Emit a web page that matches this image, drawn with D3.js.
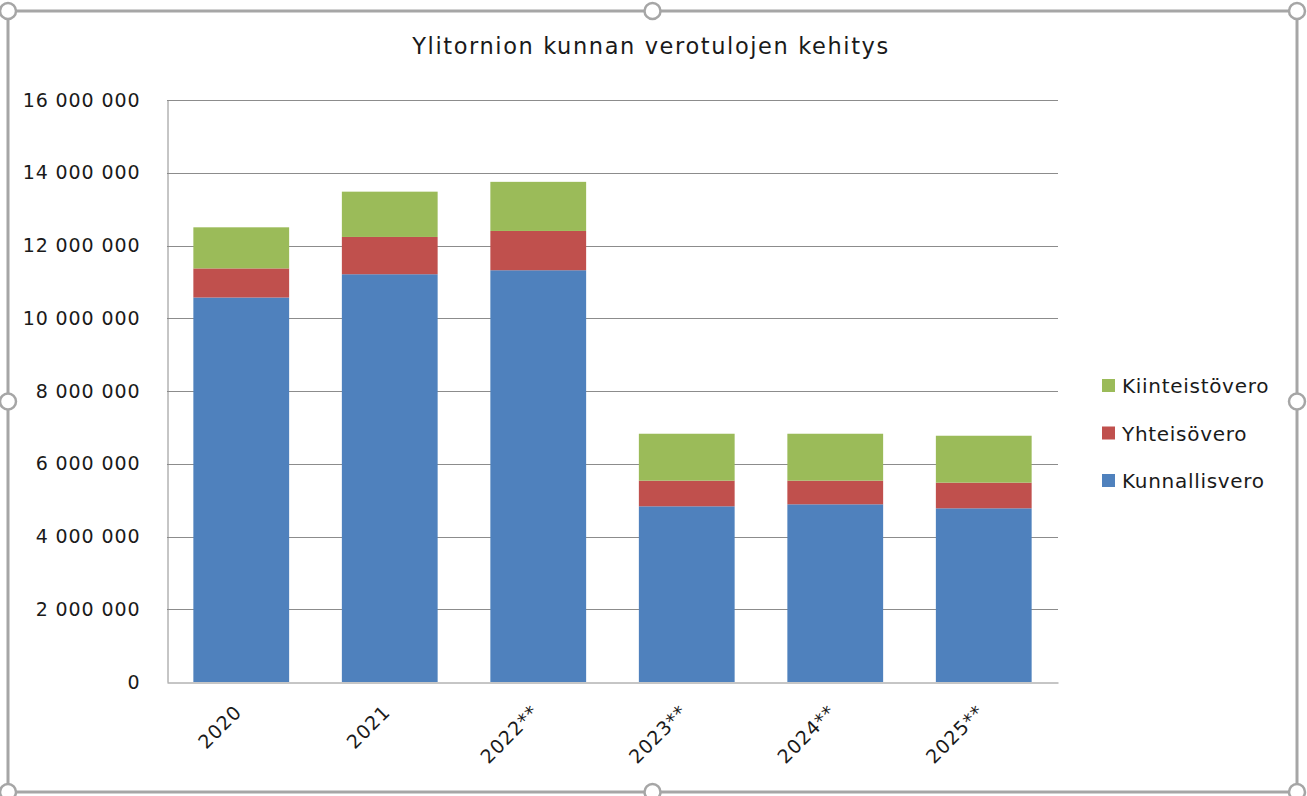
<!DOCTYPE html>
<html>
<head>
<meta charset="utf-8">
<script src="https://cdn.jsdelivr.net/npm/d3@7"></script>
<style>
  body { margin: 0; background: #fff; }
  svg text { font-family: "DejaVu Sans", sans-serif; fill: #1a1a1a; }
</style>
</head>
<body>
<div id="chart"></div>
<script>
const width = 1307;
const height = 796;

// data
const years = ["2020", "2021", "2022**", "2023**", "2024**", "2025**"];
const kunnallisvero = [10570000, 11210000, 11320000, 4830000, 4885000, 4775000];
const yhteisovero = [800000, 1025000, 1080000, 705000, 650000, 705000];
const kiinteistovero = [1130000, 1245000, 1350000, 1290000, 1290000, 1290000];
const seriesNames = ["Kunnallisvero", "Yhteisövero", "Kiinteistövero"];
const colors = ["#4F81BD", "#C0504D", "#9BBB59"];
const yTicks = [0, 2000000, 4000000, 6000000, 8000000, 10000000, 12000000, 14000000, 16000000];

const rows = years.map((y, i) => ({
  year: y,
  Kunnallisvero: kunnallisvero[i],
  "Yhteisövero": yhteisovero[i],
  "Kiinteistövero": kiinteistovero[i]
}));

const svg = d3.select("#chart")
  .append("svg")
  .attr("width", width)
  .attr("height", height);

const plot = { left: 167, right: 1058, top: 100, bottom: 682 };

const x = d3.scaleBand()
  .domain(years)
  .range([plot.left, plot.right])
  .paddingInner(0.355)
  .paddingOuter(0.1775);

const y = d3.scaleLinear()
  .domain([0, 16000000])
  .range([plot.bottom, plot.top]);

const fmt = v => d3.format(",")(v).replace(/,/g, " ");

// gridlines
svg.append("g")
  .selectAll("line")
  .data(yTicks.slice(1))
  .enter()
  .append("line")
  .attr("x1", plot.left)
  .attr("x2", plot.right)
  .attr("y1", d => Math.round(y(d)) + 0.5)
  .attr("y2", d => Math.round(y(d)) + 0.5)
  .attr("stroke", "#8c8c8c")
  .attr("stroke-width", 1);

// stacked bars
const stack = d3.stack().keys(seriesNames)(rows);

svg.append("g")
  .selectAll("g")
  .data(stack)
  .enter()
  .append("g")
  .attr("fill", (d, i) => colors[i])
  .selectAll("rect")
  .data(d => d)
  .enter()
  .append("rect")
  .attr("x", d => x(d.data.year))
  .attr("width", x.bandwidth())
  .attr("y", d => y(d[1]))
  .attr("height", d => y(d[0]) - y(d[1]));

// axes
const yAxis = svg.append("g")
  .attr("transform", `translate(${plot.left + 0.5},0)`)
  .call(d3.axisLeft(y).tickValues(yTicks).tickFormat(fmt).tickSize(0).tickPadding(27));
yAxis.select(".domain").attr("stroke", "#8c8c8c");
yAxis.selectAll("text")
  .style("font-size", "19px")
  .style("letter-spacing", "0.9px")
  .attr("fill", "#1a1a1a")
  .attr("font-family", null);

const xAxis = svg.append("g")
  .attr("transform", `translate(0,${plot.bottom + 0.5})`)
  .call(d3.axisBottom(x).tickSize(0).tickPadding(0));
xAxis.select(".domain").attr("stroke", "#8c8c8c");
xAxis.selectAll("text")
  .style("font-size", "19px")
  .style("letter-spacing", "0.9px")
  .attr("fill", "#1a1a1a")
  .attr("font-family", null)
  .attr("text-anchor", "end")
  .attr("dy", "0.35em")
  .attr("transform", "translate(-3,26) rotate(-45)");

// title
svg.append("text")
  .attr("x", 651)
  .attr("y", 54)
  .attr("text-anchor", "middle")
  .style("font-size", "22.5px")
  .style("letter-spacing", "1.6px")
  .text("Ylitornion kunnan verotulojen kehitys");

// legend (top to bottom reversed order)
const legendItems = seriesNames.map((n, i) => ({ name: n, color: colors[i] })).reverse();
const legend = svg.append("g")
  .selectAll("g")
  .data(legendItems)
  .enter()
  .append("g")
  .attr("transform", (d, i) => `translate(1102,${386 + i * 47.5})`);

legend.append("rect")
  .attr("x", 0)
  .attr("y", -7)
  .attr("width", 13)
  .attr("height", 13)
  .attr("fill", d => d.color);

legend.append("text")
  .attr("x", 20)
  .attr("dy", "0.35em")
  .style("font-size", "20px")
  .style("letter-spacing", "0.7px")
  .text(d => d.name);

// selection frame with handles
const frame = { x0: 8, y0: 11, x1: 1297, y1: 792 };
svg.append("rect")
  .attr("x", frame.x0)
  .attr("y", frame.y0)
  .attr("width", frame.x1 - frame.x0)
  .attr("height", frame.y1 - frame.y0)
  .attr("fill", "none")
  .attr("stroke", "#a6a6a6")
  .attr("stroke-width", 3);

const mx = (frame.x0 + frame.x1) / 2;
const my = (frame.y0 + frame.y1) / 2;
const handles = [
  [frame.x0, frame.y0], [mx, frame.y0], [frame.x1, frame.y0],
  [frame.x0, my], [frame.x1, my],
  [frame.x0, frame.y1], [mx, frame.y1], [frame.x1, frame.y1]
];
svg.append("g")
  .selectAll("circle")
  .data(handles)
  .enter()
  .append("circle")
  .attr("cx", d => d[0])
  .attr("cy", d => d[1])
  .attr("r", 8)
  .attr("fill", "#fff")
  .attr("stroke", "#a6a6a6")
  .attr("stroke-width", 2.5);
</script>
</body>
</html>
